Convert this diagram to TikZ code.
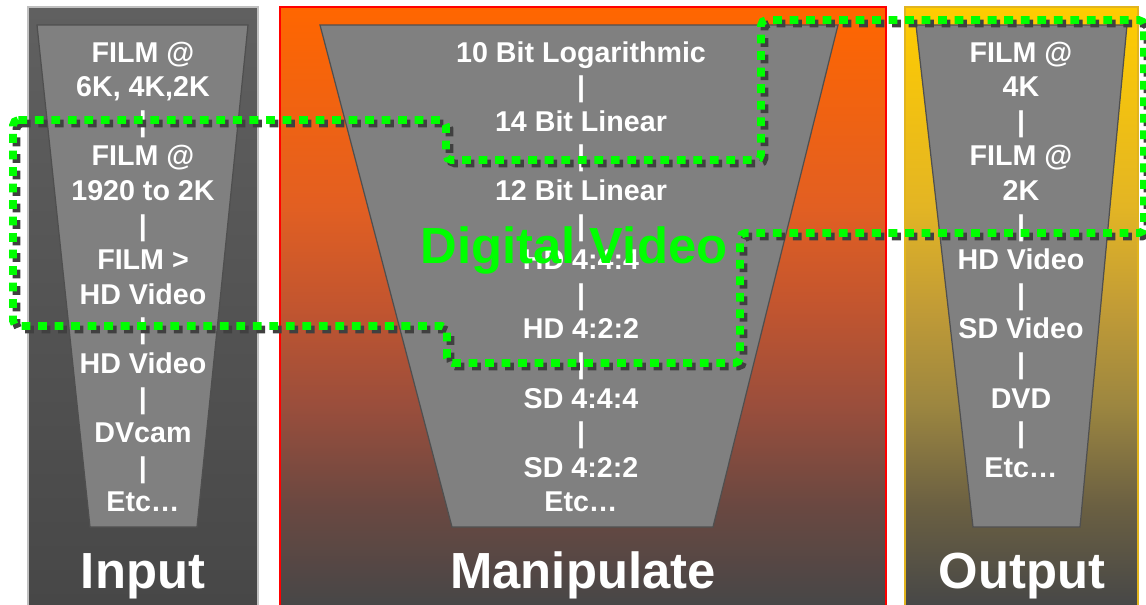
\documentclass[tikz,border=0pt]{standalone}
\usepackage{fontspec}
\setmainfont{Liberation Sans}
\definecolor{funnelgray}{HTML}{808080}
\definecolor{funneledge}{HTML}{4F4F4F}
\definecolor{dvgreen}{HTML}{00FF00}
\definecolor{shadowgray}{HTML}{404040}
\definecolor{panelbottom}{HTML}{474747}
\definecolor{inputtop}{HTML}{606060}
% manipulate panel: orange fading to dark grey
\definecolor{ma}{HTML}{FF6600}
\definecolor{mb}{HTML}{E25F22}
\definecolor{mc}{HTML}{C2552F}
\definecolor{md}{HTML}{9A4E3C}
\definecolor{me}{HTML}{6A4841}
% output panel: yellow fading to dark grey
\definecolor{oa}{HTML}{FFCC00}
\definecolor{ob}{HTML}{E3B524}
\definecolor{oc}{HTML}{C29C36}
\definecolor{od}{HTML}{9C8640}
\definecolor{oe}{HTML}{6B6042}
\pgfdeclareverticalshading{manipshade}{100bp}{color(0bp)=(panelbottom); color(25bp)=(panelbottom);
  color(33.33bp)=(me); color(41.67bp)=(md); color(50bp)=(mc); color(58.33bp)=(mb); color(75bp)=(ma); color(100bp)=(ma)}
\pgfdeclareverticalshading{outshade}{100bp}{color(0bp)=(panelbottom); color(25bp)=(panelbottom);
  color(33.33bp)=(oe); color(41.67bp)=(od); color(50bp)=(oc); color(58.33bp)=(ob); color(75bp)=(oa); color(100bp)=(oa)}
\begin{document}
\begin{tikzpicture}[x=0.02cm,y=-0.02cm,
  funnel/.style={fill=funnelgray, draw=funneledge, line width=0.7pt},
  item/.style={text=white, font=\fontsize{16.3}{19.6}\selectfont\bfseries, anchor=base, inner sep=0pt},
  stagetitle/.style={text=white, font=\fontsize{28.9}{34}\selectfont\bfseries, anchor=base, inner sep=0pt},
  loopline/.style={line width=4.4pt, dash pattern=on 5pt off 4.4pt, rounded corners=3pt}
]
\useasboundingbox (0,0) rectangle (1146,605);

% three stage panels
\shade[top color=inputtop, bottom color=panelbottom] (28,7) rectangle (258,605);
\draw[color={rgb,255:red,192;green,192;blue,192}, line width=0.6pt] (28,605) -- (28,7) -- (258,7) -- (258,605);
\shade[shading=manipshade] (280,7) rectangle (886,605);
\draw[red, line width=0.7pt] (280,605) -- (280,7) -- (886,7) -- (886,605);
\shade[shading=outshade] (905,7) rectangle (1138,605);
\draw[color={rgb,255:red,225;green,180;blue,30}, line width=0.7pt] (905,605) -- (905,7) -- (1138,7) -- (1138,605);

% funnels
\draw[funnel] (37,25) -- (248,25) -- (197,527) -- (90,527) -- cycle;
\draw[funnel] (320,25) -- (838,25) -- (713,527) -- (452,527) -- cycle;
\draw[funnel] (916,25) -- (1127,25) -- (1080,527) -- (973,527) -- cycle;

% funnel contents
\foreach [count=\i] \t in {FILM @, {6K, 4K,2K}, |, FILM @, 1920 to 2K, |, FILM >, HD Video, |, HD Video, |, DVcam, |, Etc…}
  \node[item] (in\i) at (143,{62+34.6*(\i-1)}) {\t};
\foreach [count=\i] \t in {10 Bit Logarithmic, |, 14 Bit Linear, |, 12 Bit Linear, |, HD 4:4:4, |, HD 4:2:2, |, SD 4:4:4, |, SD 4:2:2, Etc…}
  \node[item] (mid\i) at (581,{62+34.6*(\i-1)}) {\t};
\foreach [count=\i] \t in {FILM @, 4K, |, FILM @, 2K, |, HD Video, |, SD Video, |, DVD, |, Etc…}
  \node[item] (out\i) at (1021,{62+34.6*(\i-1)}) {\t};

% stage titles
\node[stagetitle] (input) at (143,588) {Input};
\node[stagetitle] (manipulate) at (583,588) {Manipulate};
\node[stagetitle] (output) at (1022,588) {Output};

% digital video region: shadow first, then the green outline
\foreach \d/\c in {3.5/shadowgray, 0/dvgreen}
  \draw[loopline, draw=\c, shift={(\d,\d)}]
    (13,120) -- (446,120) -- (446,160) -- (761,160) -- (761,20) -- (1144,20)
    -- (1144,233) -- (740,233) -- (740,363) -- (447,363) -- (447,326)
    -- (13,326) -- cycle;

\node[stagetitle, text=dvgreen] (digital) at (574,263) {Digital Video};
\end{tikzpicture}
\end{document}
